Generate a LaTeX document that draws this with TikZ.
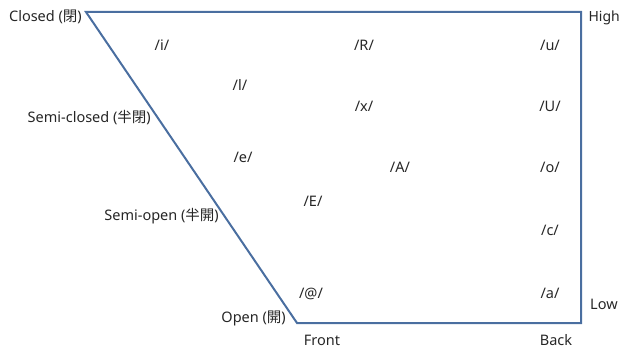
\documentclass[tikz,border=0pt]{standalone}
\usepackage{fontspec}
\setmainfont{Noto Sans}
\newfontfamily\cjk{Noto Sans CJK KR}
\begin{document}
\begin{tikzpicture}[x=1pt,y=-1pt,
  lbl/.style={font=\fontsize{14.5}{16}\selectfont, inner sep=0pt, text=black!85},
  edge/.style={line width=2pt, line join=miter}]
\useasboundingbox (0,0) rectangle (622,350);
\coordinate (tl) at (86,12);
\coordinate (tr) at (581,12);
\coordinate (br) at (581,323);
\coordinate (bl) at (297,323);
\draw[edge, draw={rgb,255:red,74;green,110;blue,160}] (tl) -- (tr) -- (br) -- (bl) -- cycle;
\node[lbl, anchor=east] (closed) at (82,17) {Closed ({\cjk 閉})};
\node[lbl, anchor=east] (semiclosed) at (151,118) {Semi-closed ({\cjk 半閉})};
\node[lbl, anchor=east] (semiopen) at (219,216) {Semi-open ({\cjk 半開})};
\node[lbl, anchor=east] (open) at (286,318) {Open ({\cjk 開})};
\node[lbl] (front) at (322,340) {Front};
\node[lbl] (back) at (556,340) {Back};
\node[lbl, anchor=east, font=\fontsize{14}{16}\selectfont] (high) at (620,18) {High};
\node[lbl, anchor=west] (low) at (590,304) {Low};
\node[lbl] (i) at (162,45) {/i/};
\node[lbl] (R) at (364,45) {/R/};
\node[lbl] (u) at (550,45) {/u/};
\node[lbl] (l) at (240,85) {/l/};
\node[lbl] (x) at (364,106) {/x/};
\node[lbl] (U) at (550,106) {/U/};
\node[lbl] (e) at (243,157) {/e/};
\node[lbl] (A) at (400,167) {/A/};
\node[lbl] (o) at (550,167) {/o/};
\node[lbl] (E) at (313,201) {/E/};
\node[lbl] (c) at (550,230) {/c/};
\node[lbl] (at) at (311,294) {/@/};
\node[lbl] (a) at (550,293) {/a/};
\end{tikzpicture}
\end{document}
